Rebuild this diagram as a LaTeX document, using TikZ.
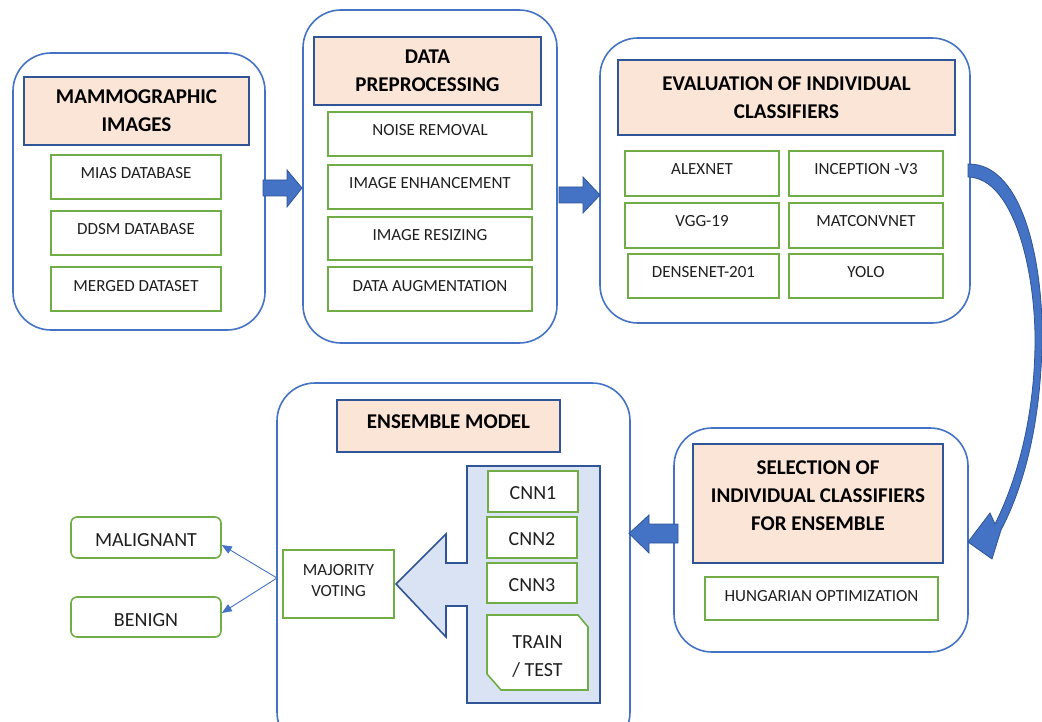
\documentclass[tikz,border=0pt]{standalone}
\usepackage{fontspec}
\setmainfont{Carlito}
\usetikzlibrary{arrows.meta}
\definecolor{cblue}{HTML}{4472C4}
\definecolor{dblue}{HTML}{2F5597}
\definecolor{cgreen}{HTML}{70AD47}
\definecolor{peach}{HTML}{FBE5D6}
\definecolor{lblue}{HTML}{DAE3F3}
\definecolor{txt}{HTML}{1F1F1F}
\begin{document}
\begin{tikzpicture}[x=1pt,y=-1pt,
  container/.style={draw=cblue,line width=1.6pt,rounded corners=38pt,inner sep=0pt},
  headbox/.style={draw=dblue,fill=peach,line width=1.6pt,inner sep=0pt},
  headfont/.style={font=\fontsize{21}{28}\selectfont\bfseries,text=black},
  item/.style={draw=cgreen,line width=1.6pt,fill=white,inner sep=0pt,font=\fontsize{17}{21}\selectfont,text=txt,text height=11pt,text depth=7pt},
  evitem/.style={item,text depth=9pt},
  cnn/.style={draw=cgreen,line width=1.6pt,fill=white,inner sep=0pt,font=\fontsize{20}{28}\selectfont,text=txt,text height=16pt,text depth=0pt},
  res/.style={cnn,rounded corners=6pt,text height=18pt},
  greenbox/.style={draw=cgreen,line width=1.6pt,fill=white,inner sep=0pt},
  mtext/.style={inner sep=0pt,align=center,text=txt},
  barrow/.style={fill=cblue,draw=dblue,line width=0.8pt,line join=miter},
  thinarrow/.style={draw=cblue,line width=0.9pt,-{Triangle[length=10pt,width=8pt]}}
]
\useasboundingbox (0,0) rectangle (1042,722);
\fill[white] (0,0) rectangle (1042,722);
\begin{scope}
\clip (0,0) rectangle (1042,722);
% containers
\node[container,minimum width=252pt,minimum height=277pt] (c1) at (139,191.5) {};
\node[container,minimum width=254pt,minimum height=333pt] (c2) at (430,176.5) {};
\node[container,minimum width=370pt,minimum height=285pt] (c3) at (785,180.5) {};
\node[container,minimum width=294pt,minimum height=224pt] (c4) at (821,540) {};
\node[container,minimum width=353pt,minimum height=367pt] (c5) at (453.5,566.5) {};
% headers
\node[headbox,headfont,align=center,minimum width=225pt,minimum height=68pt] (h1) at (136.5,111) {MAMMOGRAPHIC\\IMAGES};
\node[headbox,headfont,align=center,minimum width=227pt,minimum height=68pt] (h2) at (427.5,71) {DATA\\PREPROCESSING};
\node[headbox,headfont,align=center,minimum width=337pt,minimum height=75pt] (h3) at (786.5,97.5) {EVALUATION OF INDIVIDUAL\\CLASSIFIERS};
\node[headbox,minimum width=250pt,minimum height=119pt] (h4) at (818,503.5) {};
\node[headfont,mtext,text=black] (h4t) at (818,496) {SELECTION OF\\INDIVIDUAL CLASSIFIERS\\FOR ENSEMBLE};
\node[headbox,headfont,minimum width=223pt,minimum height=52pt,text height=13.5pt,text depth=9pt] (h5) at (448.5,426) {ENSEMBLE MODEL};
% mammographic items
\node[item,minimum width=170pt,minimum height=44pt] (mias) at (136,177) {MIAS DATABASE};
\node[item,minimum width=170pt,minimum height=44pt] (ddsm) at (136,233) {DDSM DATABASE};
\node[item,minimum width=170pt,minimum height=44pt] (merged) at (136,289) {MERGED DATASET};
% preprocessing items
\node[item,minimum width=204pt,minimum height=44pt] (noise) at (430,134) {NOISE REMOVAL};
\node[item,minimum width=204pt,minimum height=44pt] (enh) at (430,187) {IMAGE ENHANCEMENT};
\node[item,minimum width=204pt,minimum height=43pt] (resize) at (430,238.5) {IMAGE RESIZING};
\node[item,minimum width=204pt,minimum height=44pt] (aug) at (430,289) {DATA AUGMENTATION};
% classifiers
\node[evitem,minimum width=154pt,minimum height=45pt] (alex) at (702,173.5) {ALEXNET};
\node[evitem,minimum width=154pt,minimum height=45pt] (incep) at (866,173.5) {INCEPTION -V3};
\node[evitem,minimum width=154pt,minimum height=45pt] (vgg) at (702,225.5) {VGG-19};
\node[evitem,minimum width=154pt,minimum height=45pt] (matc) at (866,225.5) {MATCONVNET};
\node[evitem,minimum width=151pt,minimum height=44pt] (dense) at (703.5,276) {DENSENET-201};
\node[evitem,minimum width=154pt,minimum height=44pt] (yolo) at (866,276) {YOLO};
% hungarian
\node[item,text depth=6pt,minimum width=233pt,minimum height=43pt] (hung) at (821.5,598.5) {HUNGARIAN OPTIMIZATION};
% ensemble panel
\draw[draw=dblue,fill=lblue,line width=1.6pt] (467,466) -- (600,466) -- (600,703) -- (467,703) -- (467,606) -- (446,606) -- (446,637) -- (396,584) -- (446,534) -- (446,563) -- (467,563) -- cycle;
\node[cnn,minimum width=90pt,minimum height=41pt] (cnn1) at (533,491.5) {CNN1};
\node[cnn,minimum width=90pt,minimum height=41pt] (cnn2) at (532,537.5) {CNN2};
\node[cnn,minimum width=90pt,minimum height=40pt] (cnn3) at (532,583) {CNN3};
\draw[draw=cgreen,line width=1.6pt,fill=white] (487,615) -- (578,615) -- (588,627) -- (588,690) -- (501,690) -- (487,674) -- cycle;
\node[mtext,font=\fontsize{20}{28}\selectfont] (tt) at (537.5,657) {TRAIN\\/ TEST};
% majority voting
\node[greenbox,minimum width=111pt,minimum height=68pt] (maj) at (338.5,584) {};
\node[mtext,font=\fontsize{17}{21}\selectfont] (majt) at (338.5,581) {MAJORITY\\VOTING};
% results
\node[res,minimum width=150pt,minimum height=41pt] (mal) at (146,537.5) {MALIGNANT};
\node[res,minimum width=150pt,minimum height=40pt] (ben) at (146,617) {BENIGN};
\coordinate (vote) at (277,578);
\draw[thinarrow] (vote) -- ([yshift=-7.5pt]mal.east);
\draw[thinarrow] (vote) -- ([yshift=4pt]ben.east);
% block arrows
\draw[barrow] (263,180) -- (287,180) -- (287,170) -- (302,188) -- (287,207) -- (287,196) -- (263,196) -- cycle;
\draw[barrow] (559,187) -- (583,187) -- (583,177) -- (600,195) -- (583,213) -- (583,203) -- (559,203) -- cycle;
\draw[barrow] (678,524) -- (649,524) -- (649,515) -- (629,533.5) -- (649,553) -- (649,543) -- (678,543) -- cycle;
% curved arrow
\draw[barrow] (968,164) .. controls (1025,163) and (1044,270) .. (1042,345) .. controls (1040,430) and (1022,490) .. (1001,530) -- (992,559) -- (968,542) -- (990,513) -- (995,524) .. controls (1014,486) and (1034,425) .. (1035,345) .. controls (1036,275) and (1015,178) .. (968,177) -- cycle;
\end{scope}
\end{tikzpicture}
\end{document}
